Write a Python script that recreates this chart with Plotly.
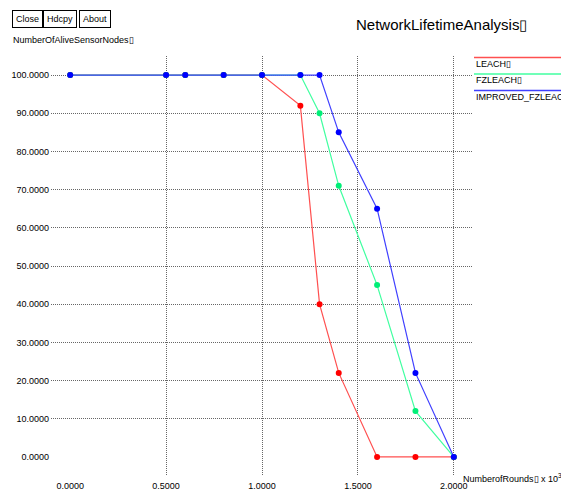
import plotly.graph_objects as go

rounds = [0.0, 0.5, 0.6, 0.8, 1.0, 1.2, 1.3, 1.4, 1.6, 1.8, 2.0]
leach = [100, 100, 100, 100, 100, 92, 40, 22, 0, 0, 0]
fzleach = [100, 100, 100, 100, 100, 100, 90, 71, 45, 12, 0]
improved = [100, 100, 100, 100, 100, 100, 100, 85, 65, 22, 0]

series_names = ["LEACH\u25af", "FZLEACH\u25af", "IMPROVED_FZLEACH\u25af"]
line_colors = ["#ff5050", "#40ffa0", "#4040ff"]
marker_colors = ["#ff0000", "#00ee77", "#0000ff"]
series = [leach, fzleach, improved]

x_ticks = [0.0, 0.5, 1.0, 1.5, 2.0]
y_ticks = [0, 10, 20, 30, 40, 50, 60, 70, 80, 90, 100]

FONT = "Liberation Sans, Arial, sans-serif"

fig = go.Figure()
# dummy trace on grid axes
fig.add_trace(go.Scatter(x=[None], y=[None], xaxis="x", yaxis="y", showlegend=False, hoverinfo="skip"))
for name, ys, lc, mc in zip(series_names, series, line_colors, marker_colors):
    fig.add_trace(go.Scatter(
        x=rounds, y=ys, name=name, mode="lines+markers",
        xaxis="x2", yaxis="y2",
        line=dict(color=lc, width=1.2),
        marker=dict(color=mc, size=6),
        showlegend=False,
    ))

xr = [-0.1, 2.1]
yr = [-5, 105]
grid = dict(showgrid=True, gridcolor="#666666", griddash="1px,1px", gridwidth=1,
            showline=False, zeroline=False, ticks="", showticklabels=False,
            automargin=False)
L, R, T, B = 51, 88, 56, 15
PW = 561 - L - R
PH = 491 - T - B
fig.update_layout(
    width=561, height=491,
    margin=dict(l=L, r=R, t=T, b=B, autoexpand=False),
    paper_bgcolor="white", plot_bgcolor="white",
    font=dict(family=FONT, size=9, color="#000000"),
    xaxis=dict(range=xr, tickvals=[v for v in x_ticks if v != 0], **grid),
    yaxis=dict(range=yr, tickvals=[v for v in y_ticks if v != 0], **grid),
    xaxis2=dict(range=xr, overlaying="x", tickvals=x_ticks, tickformat=".4f",
                showgrid=False, zeroline=False, showline=False, ticks="",
                side="bottom", ticklabelstandoff=3, automargin=False,
                tickfont=dict(family=FONT, size=9, color="#000")),
    yaxis2=dict(range=yr, overlaying="y", tickvals=y_ticks, tickformat=".4f",
                showgrid=False, zeroline=False, showline=False, ticks="",
                side="left", ticklabelstandoff=1, automargin=False,
                tickfont=dict(family=FONT, size=9, color="#000")),
    showlegend=False,
)


def px(xp):
    return (xp - L) / PW


def py(yp):
    return 1 - (yp - T) / PH


# title
fig.add_annotation(text="NetworkLifetimeAnalysis\u25af", xref="paper", yref="paper",
                   x=px(441), y=py(24), xanchor="center", yanchor="middle",
                   showarrow=False, font=dict(family=FONT, size=15))
# buttons
for label, xs in [("Close", 12), ("Hdcpy", 43), ("About", 79)]:
    fig.add_annotation(text=label, xref="paper", yref="paper",
                       x=px(xs), y=py(10), xanchor="left", yanchor="top",
                       showarrow=False, bordercolor="#000", borderwidth=1, borderpad=3,
                       bgcolor="white", font=dict(family=FONT, size=9))
# y axis title
fig.add_annotation(text="NumberOfAliveSensorNodes\u25af", xref="paper", yref="paper",
                   x=px(11), y=py(40), xanchor="left", yanchor="middle",
                   showarrow=False, font=dict(family=FONT, size=9))
# x axis title
fig.add_annotation(text="NumberofRounds\u25af x 10<sup>3</sup>", xref="paper", yref="paper",
                   x=px(461), y=py(478), xanchor="left", yanchor="middle",
                   showarrow=False, font=dict(family=FONT, size=9))
# custom legend
for i, (name, lc) in enumerate(zip(series_names, line_colors)):
    ly = 57.5 + i * 16.5
    fig.add_shape(type="line", xref="paper", yref="paper",
                  x0=px(474), x1=px(565), y0=py(ly), y1=py(ly),
                  line=dict(color=lc, width=1.5))
    fig.add_annotation(text=name, xref="paper", yref="paper",
                       x=px(474), y=py(ly + 6), xanchor="left", yanchor="middle",
                       showarrow=False, font=dict(family=FONT, size=9))

fig.write_html("out.html", config={"displayModeBar": False},
               post_script="document.body.style.margin='0px';")
